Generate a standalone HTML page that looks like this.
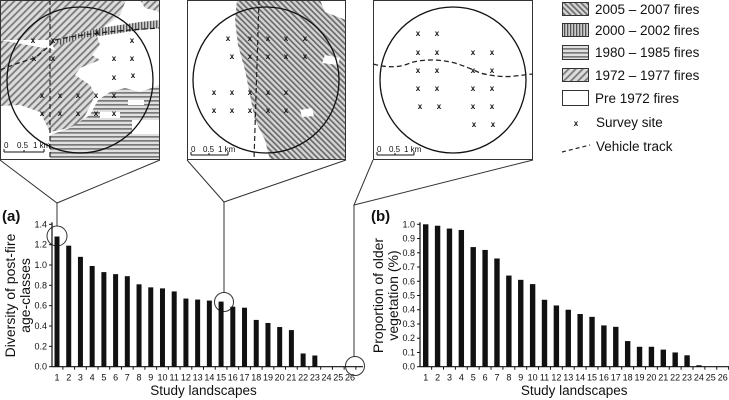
<!DOCTYPE html>
<html><head><meta charset="utf-8"><style>
body{margin:0;background:#fff}
svg{display:block;font-family:"Liberation Sans",sans-serif}
</style></head><body>
<svg width="729" height="400" viewBox="0 0 729 400">
<defs>
<pattern id="pDiag" width="5" height="5" patternUnits="userSpaceOnUse" patternTransform="rotate(45)"><rect width="5" height="5" fill="#dcdcdc"/><rect width="1.8" height="5" fill="#7a7a7a"/></pattern>
<pattern id="pDiag2" width="4" height="4" patternUnits="userSpaceOnUse" patternTransform="rotate(-45)"><rect width="4" height="4" fill="#d6d6d6"/><rect width="1.7" height="4" fill="#6a6a6a"/></pattern>
<pattern id="pVert" width="3" height="3" patternUnits="userSpaceOnUse"><rect width="3" height="3" fill="#ccc"/><rect width="1.3" height="3" fill="#555"/></pattern>
<pattern id="pHor" width="4" height="4" patternUnits="userSpaceOnUse"><rect width="4" height="4" fill="#e0e0e0"/><rect width="4" height="1.7" fill="#7a7a7a"/></pattern>
<clipPath id="c1"><rect x="0" y="0" width="160" height="160"/></clipPath>
<clipPath id="c2"><rect x="187" y="0" width="159" height="160"/></clipPath>
</defs>

<!-- Map 1 -->
<g clip-path="url(#c1)">
<rect x="0" y="0" width="160" height="160" fill="#fff"/>
<polygon fill="url(#pDiag)" points="0,0 126,0 120,15 100,30 80,35 60,40 55,50 50,40 0,40"/>
<polygon fill="url(#pDiag)" points="140,0 160,0 160,12 145,8"/>
<polygon fill="url(#pDiag)" points="0,40 55,50 60,38 95,30 100,45 92,55 100,60 80,68 75,75 90,85 95,95 88,110 80,125 60,130 50,132 40,112 20,105 0,106"/>
<polygon fill="url(#pVert)" points="55,40 80,33 100,28 120,25 140,22 160,20 160,28 140,30 120,33 100,36 80,38 60,45"/>
<polygon fill="url(#pHor)" points="50,160 50,135 70,128 90,115 98,100 110,92 125,88 140,92 160,85 160,160"/>
<rect x="100" y="112" width="20" height="6" fill="#fff"/>
<rect x="128" y="100" width="16" height="5" fill="#fff"/>
<rect x="132" y="120" width="28" height="14" fill="#fff"/>
<path d="M0,70 Q20,62 35,58 Q45,50 50,45 L55,40 Q90,32 160,28" fill="none" stroke="#222" stroke-width="1.3" stroke-dasharray="5,3"/>
<line x1="50" y1="0" x2="50" y2="160" stroke="#222" stroke-width="1.2" stroke-dasharray="5,3"/>
</g>
<rect x="0.5" y="0.5" width="159" height="159" fill="none" stroke="#333"/>
<circle cx="80" cy="80" r="73" fill="none" stroke="#111" stroke-width="1.3"/>

<!-- Map 2 -->
<g clip-path="url(#c2)">
<rect x="187" y="0" width="159" height="160" fill="#fff"/>
<polygon fill="url(#pDiag2)" points="237,0 320,0 325,12 346,20 346,160 270,160 265,140 255,120 250,95 245,70 238,45 235,20"/>
<polygon fill="#fff" points="325,55 340,58 338,65 322,63"/>
<polygon fill="#fff" points="300,110 312,108 314,116 302,117"/>
<line x1="259" y1="0" x2="254" y2="160" stroke="#222" stroke-width="1.2" stroke-dasharray="5,3"/>
</g>
<rect x="187.5" y="0.5" width="158" height="159" fill="none" stroke="#333"/>
<circle cx="266" cy="80" r="73" fill="none" stroke="#111" stroke-width="1.3"/>

<!-- Map 3 -->
<g>
<rect x="373.5" y="0.5" width="159" height="159" fill="#fff" stroke="#333"/>
<circle cx="453" cy="80" r="73" fill="none" stroke="#111" stroke-width="1.3"/>
<path d="M373,64 Q395,70 410,63 Q430,57 455,63 Q470,68 480,73 Q500,78 515,76 L533,74" fill="none" stroke="#222" stroke-width="1.3" stroke-dasharray="5,3"/>
</g>

<g id="marks" font-size="8" font-weight="bold" text-anchor="middle" fill="#111"></g>

<!-- scale bars -->
<g font-size="8" fill="#111" stroke="#111">
<g transform="translate(4,0)"><line x1="0" y1="152" x2="40" y2="152"/><line x1="0" y1="149" x2="0" y2="152"/><line x1="20" y1="150" x2="20" y2="152"/><line x1="40" y1="149" x2="40" y2="152"/><text stroke="none" x="0" y="148">0</text><text stroke="none" x="13" y="148">0.5</text><text stroke="none" x="29" y="148">1 km</text></g>
<g transform="translate(191,0)"><line x1="0" y1="155" x2="37" y2="155"/><line x1="0" y1="152" x2="0" y2="155"/><line x1="18" y1="153" x2="18" y2="155"/><line x1="37" y1="152" x2="37" y2="155"/><text stroke="none" x="0" y="152">0</text><text stroke="none" x="12" y="152">0.5</text><text stroke="none" x="27" y="152">1 km</text></g>
<g transform="translate(377,0)"><line x1="0" y1="155" x2="37" y2="155"/><line x1="0" y1="152" x2="0" y2="155"/><line x1="18" y1="153" x2="18" y2="155"/><line x1="37" y1="152" x2="37" y2="155"/><text stroke="none" x="0" y="152">0</text><text stroke="none" x="12" y="152">0.5</text><text stroke="none" x="27" y="152">1 km</text></g>
</g>

<!-- connectors -->
<g fill="none" stroke="#333" stroke-width="1">
<polyline points="0,160 57,203 160,160"/><line x1="57" y1="203" x2="57" y2="226"/>
<polyline points="187,160 224,202 346,160"/><line x1="224" y1="202" x2="224" y2="293"/>
<polyline points="373,160 354,205 533,160"/><line x1="354" y1="205" x2="354" y2="357"/>
<circle cx="57" cy="236" r="10"/><circle cx="224" cy="302" r="9.5"/><circle cx="355" cy="366" r="9.5"/>
</g>

<!-- legend -->
<g font-size="13.5" fill="#111">
<rect x="562.5" y="2.5" width="26" height="13" fill="url(#pDiag2)" stroke="#333"/><text x="595" y="14">2005 – 2007 fires</text>
<rect x="562.5" y="23.5" width="26" height="13" fill="url(#pVert)" stroke="#333"/><text x="595" y="35">2000 – 2002 fires</text>
<rect x="562.5" y="45.5" width="26" height="14" fill="url(#pHor)" stroke="#333"/><text x="595" y="57">1980 – 1985 fires</text>
<rect x="562.5" y="68.5" width="26" height="13" fill="url(#pDiag)" stroke="#333"/><text x="595" y="80">1972 – 1977 fires</text>
<rect x="562.5" y="90.5" width="26" height="15" fill="#fff" stroke="#333"/><text x="595" y="103">Pre 1972 fires</text>
<text x="576" y="126" font-size="8" font-weight="bold" text-anchor="middle">x</text><text x="596" y="127">Survey site</text>
<path d="M562,152 L590,145" stroke="#222" stroke-width="1.2" stroke-dasharray="4,3"/><text x="596" y="151">Vehicle track</text>
</g>

<g id="chartA"></g>
<g id="chartB"></g>
</svg>
<script>
const categories = Array.from({length:26},(_,i)=>String(i+1));
const diversityValues = [1.28,1.19,1.08,0.99,0.93,0.91,0.89,0.81,0.78,0.77,0.74,0.67,0.66,0.65,0.64,0.59,0.58,0.46,0.43,0.39,0.36,0.13,0.11,0,0,0];
const olderValues = [1.0,0.99,0.97,0.96,0.84,0.82,0.76,0.64,0.61,0.58,0.47,0.43,0.40,0.37,0.35,0.29,0.28,0.18,0.14,0.14,0.12,0.10,0.08,0.01,0,0];
const ticksA = ["0.0","0.2","0.4","0.6","0.8","1.0","1.2","1.4"];
const ticksB = ["0.0","0.1","0.2","0.3","0.4","0.5","0.6","0.7","0.8","0.9","1.0"];
const NS="http://www.w3.org/2000/svg";
function mk(p,tag,a,txt){const e=document.createElementNS(NS,tag);for(const k in a)e.setAttribute(k,a[k]);if(txt!=null)e.textContent=txt;p.appendChild(e);return e;}

function chart(g,o){
  const y0=366.7,yTop=224.3;
  const yScale=v=>y0-(v/o.max)*(y0-yTop);
  const xScale=i=>o.x1+i*(o.x26-o.x1)/25;
  mk(g,'line',{x1:o.ax,y1:yTop-2,x2:o.ax,y2:y0,stroke:'#111','stroke-width':1.2});
  mk(g,'line',{x1:o.ax,y1:y0,x2:o.xEnd,y2:y0,stroke:'#111','stroke-width':1.2});
  o.ticks.forEach(t=>{const y=yScale(parseFloat(t));
    mk(g,'line',{x1:o.ax-3,y1:y,x2:o.ax,y2:y,stroke:'#111'});
    const tl=mk(g,'text',{x:o.ax-5,y:y+3,'font-size':9,'text-anchor':'end',fill:'#111'},t);
    
    });
  o.vals.forEach((v,i)=>{const x=xScale(i);
    mk(g,'line',{x1:x+(o.x26-o.x1)/50,y1:y0,x2:x+(o.x26-o.x1)/50,y2:y0+3,stroke:'#111'});
    const b=mk(g,'rect',{x:x-o.bw/2,y:yScale(v),width:o.bw,height:y0-yScale(v),fill:'#111'});
    
    
    const l=mk(g,'text',{x:x,y:y0+14,'font-size':9,'text-anchor':'middle',fill:'#111'},categories[i]);
    
    });
  mk(g,'text',{x:(o.x1+o.x26)/2,y:395,'font-size':13.5,'text-anchor':'middle',fill:'#111'},'Study landscapes');
  const t=mk(g,'text',{x:0,y:0,'font-size':14,'text-anchor':'middle',fill:'#111',transform:`translate(${o.tx},${(y0+yTop)/2}) rotate(-90)`});
  mk(t,'tspan',{x:0,dy:0},o.t1);mk(t,'tspan',{x:0,dy:15},o.t2);
  mk(g,'text',{x:o.lx,y:221,'font-size':15,'font-weight':'bold',fill:'#111'},o.label);
}
chart(document.getElementById('chartA'),{vals:diversityValues,ticks:ticksA,max:1.4,ax:52,x1:57,x26:350,xEnd:363,bw:5,tx:15,t1:'Diversity of post-fire',t2:'age-classes',lx:2,label:'(a)'});
chart(document.getElementById('chartB'),{vals:olderValues,ticks:ticksB,max:1.0,ax:420,x1:425.7,x26:722.7,xEnd:729,bw:5.4,tx:383,t1:'Proportion of older',t2:'vegetation (%)',lx:371,label:'(b)'});

const siteX=[33,53,97,132,34,53,114,132,114,133,42,60,78,96,114,42,60,78,96,114,
228,250,268,286,305,232,250,268,286,305,214,232,250,268,286,214,232,250,268,286,
418,437,418,437,473,492,418,437,473,492,418,437,473,492,420,439,473,492,474,493];
const siteY=[40,40,32,40,58,58,58,58,77,75,95,95,95,95,95,113,113,113,113,113,
38,38,38,38,38,56,56,56,56,56,92,92,92,92,92,110,110,110,110,110,
33,33,52,52,52,52,70,70,70,70,88,88,88,88,106,106,106,106,124,124];
const mg=document.getElementById('marks');
siteX.forEach((x,i)=>{const s=mk(mg,'text',{x:x,y:siteY[i]+3},'x');
  
  });
</script>
</body></html>
